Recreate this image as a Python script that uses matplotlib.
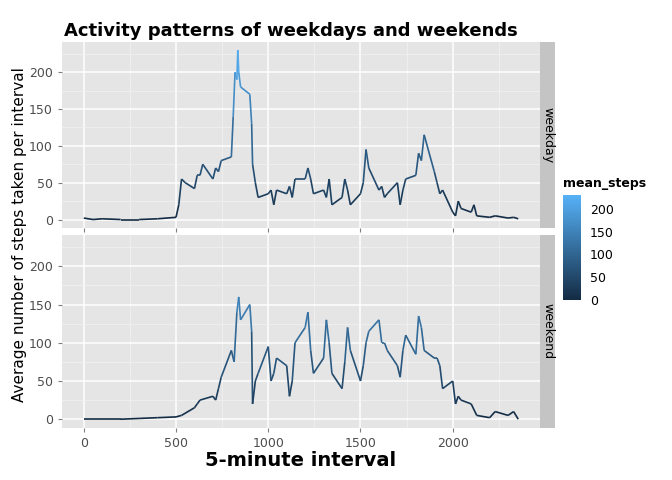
import numpy as np
import matplotlib.pyplot as plt
from matplotlib.collections import LineCollection
from matplotlib.colors import LinearSegmentedColormap, Normalize

# ============ datos ============
wd_x = [0, 50, 100, 200, 300, 400, 500, 515, 530, 550, 600, 615, 630, 645, 700, 715, 730, 745,
        800, 810, 820, 830, 835, 840, 850, 900, 910, 915, 930, 945, 1000, 1015, 1030, 1045,
        1100, 1115, 1130, 1145, 1200, 1215, 1230, 1245, 1300, 1315, 1330, 1345, 1400, 1415,
        1430, 1445, 1500, 1515, 1530, 1545, 1600, 1615, 1630, 1645, 1700, 1715, 1730, 1745,
        1800, 1815, 1830, 1845, 1900, 1915, 1930, 1945, 2000, 2015, 2030, 2045, 2100, 2115,
        2130, 2200, 2230, 2300, 2330, 2355]
wd_y = [2, 0, 1, 0, 0, 1, 3, 20, 55, 50, 42, 60, 60, 75, 55, 70, 65, 80,
        85, 140, 200, 190, 230, 200, 180, 170, 130, 75, 50, 30, 35, 40, 20, 40,
        35, 45, 30, 55, 55, 70, 55, 35, 40, 30, 55, 20, 30, 55,
        40, 20, 35, 50, 95, 70, 40, 45, 30, 35, 50, 20, 40, 55,
        60, 90, 80, 115, 65, 50, 35, 40, 10, 5, 25, 15, 10, 20,
        5, 3, 5, 2, 3, 1]
we_x = [0, 100, 200, 300, 400, 500, 530, 600, 615, 630, 700, 715, 730, 745, 800, 815, 830, 840,
        850, 900, 910, 915, 930, 945, 1000, 1015, 1030, 1045, 1100, 1115, 1130, 1145, 1200,
        1215, 1230, 1245, 1300, 1315, 1330, 1345, 1400, 1415, 1430, 1445, 1500, 1515, 1530,
        1545, 1600, 1615, 1630, 1645, 1700, 1715, 1730, 1745, 1800, 1815, 1830, 1845, 1900,
        1915, 1930, 1945, 2000, 2015, 2030, 2045, 2100, 2130, 2200, 2230, 2300, 2330, 2355]
we_y = [0, 0, 0, 1, 2, 3, 5, 15, 20, 25, 30, 25, 40, 55, 90, 75, 140, 160,
        130, 150, 115, 20, 50, 60, 95, 50, 60, 80, 70, 30, 50, 100, 120,
        140, 90, 60, 80, 130, 100, 60, 40, 75, 120, 90, 50, 70, 100,
        115, 130, 100, 100, 90, 70, 55, 90, 110, 85, 135, 120, 90, 80,
        80, 70, 40, 50, 20, 30, 25, 20, 5, 2, 10, 5, 10, 0]
paneles = ['weekday', 'weekend']

cmap = LinearSegmentedColormap.from_list('gg', ['#132B43', '#56B1F7'])
norm = Normalize(0, max(wd_y + we_y))

fig = plt.figure(figsize=(6.72, 4.8), dpi=100)
W, H = 672., 480.
boxes = [(62, 42, 540, 228), (62, 235, 540, 428)]
datos = [(wd_x, wd_y), (we_x, we_y)]
axs = []
for (l, t, r, b), (x, y), nom in zip(boxes, datos, paneles):
    ax = fig.add_axes([l / W, 1 - b / H, (r - l) / W, (b - t) / H])
    ax.set_facecolor('#E5E5E5')
    x = np.array(x); y = np.array(y)
    pts = np.column_stack([x, y]).reshape(-1, 1, 2)
    seg = np.concatenate([pts[:-1], pts[1:]], axis=1)
    lc = LineCollection(seg, cmap=cmap, norm=norm, linewidth=1.2)
    lc.set_array((y[:-1] + y[1:]) / 2)
    ax.add_collection(lc)
    ax.set_xlim(-118, 2473)
    ax.set_ylim(-11.5, 241)
    ax.set_xticks([0, 500, 1000, 1500, 2000])
    ax.set_yticks([0, 50, 100, 150, 200])
    ax.set_xticks([250, 750, 1250, 1750, 2250], minor=True)
    ax.set_yticks([25, 75, 125, 175, 225], minor=True)
    ax.grid(True, which='major', color='white', lw=1.1)
    ax.grid(True, which='minor', color='#F2F2F2', lw=0.5)
    ax.set_axisbelow(True)
    for s in ax.spines.values():
        s.set_visible(False)
    ax.tick_params(which='both', length=3, color='#7F7F7F', labelsize=9, labelcolor='#4D4D4D')
    ax.tick_params(which='minor', length=0)
    # tira lateral
    st = fig.add_axes([r / W, 1 - b / H, 15 / W, (b - t) / H])
    st.set_facecolor('#C4C4C4')
    st.set_xticks([]); st.set_yticks([])
    for s in st.spines.values():
        s.set_visible(False)
    st.text(0.5, 0.5, nom, rotation=-90, ha='center', va='center', fontsize=9, transform=st.transAxes)
    axs.append(ax)

axs[0].tick_params(labelbottom=False)
fig.text(291 / W, 1 - 31 / H, 'Activity patterns of weekdays and weekends',
         ha='center', va='center', fontsize=13, fontweight='bold')
fig.text(301 / W, 1 - 461 / H, '5-minute interval', ha='center', va='center', fontsize=14, fontweight='bold')
fig.text(20 / W, 1 - 235 / H, 'Average number of steps taken per interval', rotation=90,
         ha='center', va='center', fontsize=11)

cax = fig.add_axes([563 / W, 1 - 300 / H, 18 / W, 105 / H])
sm = plt.cm.ScalarMappable(cmap=cmap, norm=norm)
cb = fig.colorbar(sm, cax=cax, ticks=[0, 50, 100, 150, 200])
cb.outline.set_visible(False)
cax.tick_params(length=3, color='white', labelsize=9)
cax.set_title('mean_steps', fontsize=9, fontweight='bold', loc='left', pad=6)

fig.savefig('out.png', dpi=100)
